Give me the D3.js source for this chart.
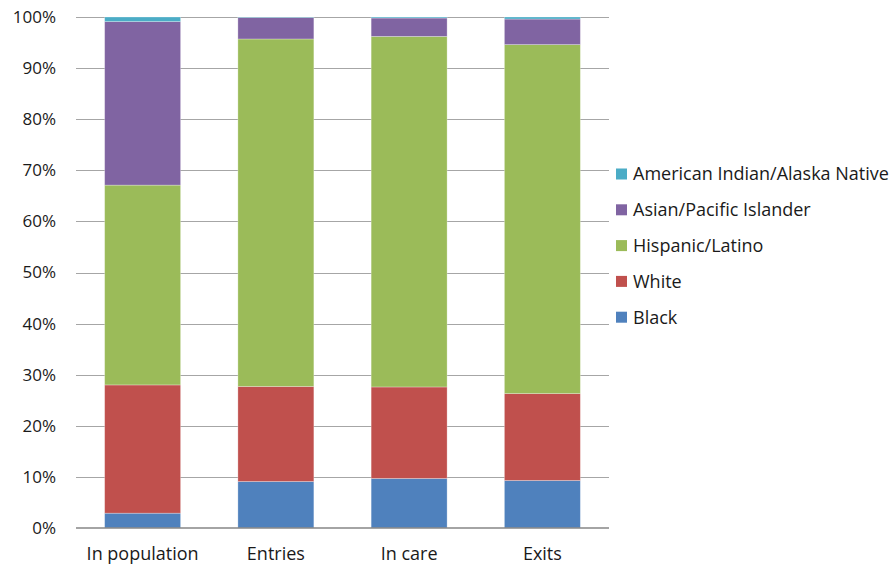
<!DOCTYPE html>
<html>
<head>
<meta charset="utf-8">
<script src="https://cdn.jsdelivr.net/npm/d3@7"></script>
<style>
  body { margin: 0; background: #fff; }
  svg { display: block; font-family: "Open Sans", Lato, sans-serif; }
</style>
</head>
<body>
<svg id="chart" width="890" height="565"></svg>
<script>
const categories = ["In population", "Entries", "In care", "Exits"];
const seriesNames = ["Black", "White", "Hispanic/Latino", "Asian/Pacific Islander", "American Indian/Alaska Native"];
const black    = [2.9, 9.1, 9.7, 9.3];
const white    = [25.1, 18.6, 17.9, 17.0];
const hispanic = [39.1, 68.0, 68.6, 68.3];
const asian    = [32.0, 4.2, 3.6, 5.0];
const amIndian = [0.9, 0.1, 0.2, 0.4];
const colors = ["#4F81BD", "#C0504D", "#9BBB59", "#8064A2", "#4BACC6"];
const yTicks = [0, 10, 20, 30, 40, 50, 60, 70, 80, 90, 100];

(function () {
const seriesValues = [black, white, hispanic, asian, amIndian];
const table = categories.map((c, i) => {
  const row = { cat: c };
  seriesNames.forEach((s, j) => row[s] = seriesValues[j][i]);
  return row;
});

const svg = d3.select("#chart");
const plotLeft = 76, plotRight = 609, plotTop = 17, plotBottom = 528;

const x = d3.scaleBand().domain(categories).range([plotLeft, plotRight]).paddingInner(0.43).paddingOuter(0.215);
const y = d3.scaleLinear().domain([0, 100]).range([plotBottom, plotTop]);

// gridlines
svg.append("g").selectAll("line").data(yTicks.filter(d => d > 0)).join("line")
  .attr("x1", plotLeft).attr("x2", plotRight)
  .attr("y1", d => Math.round(y(d)) + 0.5).attr("y2", d => Math.round(y(d)) + 0.5)
  .attr("stroke", "#a6a6a6").attr("stroke-width", 1.2);

const stack = d3.stack().keys(seriesNames);
const layers = stack(table);

svg.append("g").selectAll("g").data(layers).join("g")
  .attr("fill", (d, i) => colors[i])
  .selectAll("rect").data(d => d).join("rect")
  .attr("x", d => x(d.data.cat))
  .attr("width", x.bandwidth())
  .attr("y", d => y(d[1]))
  .attr("height", d => y(d[0]) - y(d[1]))
  .attr("stroke", "#ffffff").attr("stroke-opacity", 0.35).attr("stroke-width", 0.8);

// baseline
svg.append("line").attr("x1", plotLeft).attr("x2", plotRight)
  .attr("y1", plotBottom).attr("y2", plotBottom)
  .attr("stroke", "#868686").attr("stroke-width", 1.5);

// y axis labels
svg.append("g").selectAll("text").data(yTicks).join("text")
  .attr("x", 56).attr("y", d => y(d)).attr("dy", "0.35em")
  .attr("text-anchor", "end").attr("font-size", 17).attr("fill", "#1a1a1a")
  .text(d => d + "%");

// x axis labels
svg.append("g").selectAll("text").data(categories).join("text")
  .attr("x", d => x(d) + x.bandwidth() / 2).attr("y", 560)
  .attr("text-anchor", "middle").attr("font-size", 18).attr("fill", "#1a1a1a")
  .text(d => d);

// legend (reverse order)
const legendItems = seriesNames.map((s, i) => ({ name: s, color: colors[i] })).reverse();
const lg = svg.append("g").selectAll("g").data(legendItems).join("g")
  .attr("transform", (d, i) => `translate(616, ${174 + i * 35.8})`);
lg.append("rect").attr("x", 0).attr("y", -5.5).attr("width", 11).attr("height", 11).attr("fill", d => d.color);
lg.append("text").attr("x", 17).attr("y", 0).attr("dy", "0.35em")
  .attr("font-size", 18).attr("fill", "#1a1a1a").text(d => d.name);
})();
</script>
</body>
</html>
